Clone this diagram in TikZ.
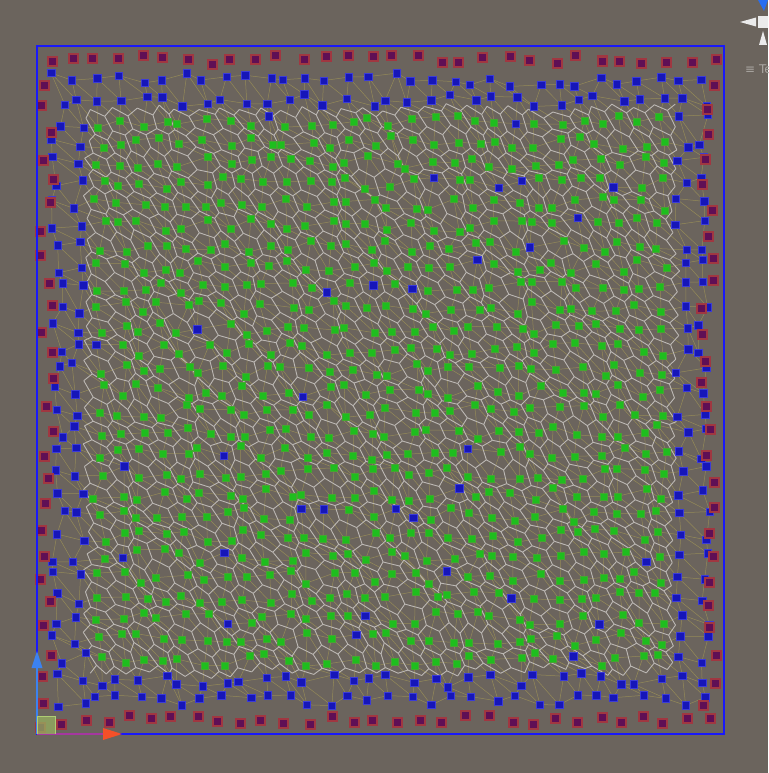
\documentclass[tikz,border=0pt]{standalone}
\usepackage{fontspec}
\setmainfont{DejaVu Sans}
\definecolor{bgc}{RGB}{107,100,93}
\definecolor{framec}{RGB}{25,25,250}
\definecolor{delc}{RGB}{148,138,88}
\definecolor{vorc}{RGB}{188,184,180}
\definecolor{bluept}{RGB}{22,22,185}
\definecolor{bluein}{RGB}{60,60,215}
\definecolor{greenpt}{RGB}{30,190,30}
\definecolor{greenin}{RGB}{70,165,50}
\definecolor{magout}{RGB}{160,55,65}
\definecolor{magin}{RGB}{95,15,85}
\definecolor{gizw}{RGB}{235,235,235}
\definecolor{gizb}{RGB}{40,110,240}
\definecolor{axblue}{RGB}{60,130,240}
\definecolor{axred}{RGB}{245,80,40}
\definecolor{axpurp}{RGB}{165,55,160}
\definecolor{boxg}{RGB}{150,175,95}
\definecolor{boxgl}{RGB}{175,205,115}
\definecolor{labg}{RGB}{170,166,162}
\tikzset{
  del/.style={delc, line width=0.5pt},
  vor/.style={vorc, line width=0.9pt},
  bluep/.style={rectangle, inner sep=0pt, minimum size=7.5pt, fill=bluept, draw=bluein, line width=0.5pt},
  greenp/.style={rectangle, inner sep=0pt, minimum size=7pt, fill=greenpt, draw=greenin, line width=0.5pt},
  magp/.style={rectangle, inner sep=0pt, minimum size=9pt, fill=magin, draw=magout, line width=2pt},
}
\begin{document}
\begin{tikzpicture}[x=1pt,y=-1pt]
\useasboundingbox (0,0) rectangle (768,773);
\fill[bgc] (0,0) rectangle (768,773);
% grid of points
\foreach \i in {0,...,31}{
  \foreach \j in {0,...,30}{
    \pgfmathsetmacro\hx{frac(abs(sin(\i*127.1+\j*311.7))*4375.85)}
    \pgfmathsetmacro\hy{frac(abs(sin(\i*269.5+\j*183.3))*4375.85)}
    \pgfmathsetmacro\hc{frac(abs(sin(\i*419.2+\j*71.9+13))*4375.85)}
    \coordinate (p-\i-\j) at ({58+\i*20.8+(\hx-0.5)*14},{80+\j*20.7+(\hy-0.5)*14});
    \pgfmathtruncatemacro\cls{(\i<2 || \i>29 || \j<2 || \j>28 || \hc<0.07) ? 1 : 0}
    \expandafter\xdef\csname cl-\i-\j\endcsname{\cls}
  }
}
% Delaunay-like edges
\foreach \i in {0,...,31}{
  \foreach \j in {0,...,30}{
    \pgfmathtruncatemacro\ii{\i+1}
    \pgfmathtruncatemacro\jj{\j+1}
    \ifnum\i<31 \draw[del] (p-\i-\j) -- (p-\ii-\j); \fi
    \ifnum\j<30 \draw[del] (p-\i-\j) -- (p-\i-\jj); \fi
    \ifnum\i<31 \ifnum\j<30 \draw[del] (p-\i-\j) -- (p-\ii-\jj); \fi\fi
  }
}
% dual vertices
\foreach \i in {1,...,29}{
  \foreach \j in {1,...,28}{
    \pgfmathtruncatemacro\ii{\i+1}
    \pgfmathtruncatemacro\jj{\j+1}
    \coordinate (A-\i-\j) at (barycentric cs:p-\i-\j=1,p-\ii-\j=1,p-\ii-\jj=1);
    \coordinate (B-\i-\j) at (barycentric cs:p-\i-\j=1,p-\i-\jj=1,p-\ii-\jj=1);
  }
}
% Voronoi-like cells
\foreach \i in {1,...,29}{
  \foreach \j in {1,...,28}{
    \pgfmathtruncatemacro\ii{\i+1}
    \pgfmathtruncatemacro\jm{\j-1}
    \draw[vor] (A-\i-\j) -- (B-\i-\j);
    \ifnum\j>1 \draw[vor] (A-\i-\j) -- (B-\i-\jm); \fi
    \ifnum\i<29 \draw[vor] (A-\i-\j) -- (B-\ii-\j); \fi
  }
}
% points
\foreach \i in {0,...,31}{
  \foreach \j in {0,...,30}{
    \expandafter\ifnum\csname cl-\i-\j\endcsname=1
      \node[bluep] (n-\i-\j) at (p-\i-\j) {};
    \else
      \node[greenp] (n-\i-\j) at (p-\i-\j) {};
    \fi
  }
}
% outer ring: top and bottom rows
\foreach \k in {0,...,29}{
  \pgfmathsetmacro\ha{frac(abs(sin(\k*157.3+31))*4375.85)}
  \pgfmathsetmacro\hb{frac(abs(sin(\k*91.7+77))*4375.85)}
  \pgfmathsetmacro\hd{frac(abs(sin(\k*233.9+5))*4375.85)}
  \pgfmathsetmacro\he{frac(abs(sin(\k*61.3+191))*4375.85)}
  \node[magp] (mt-\k) at ({50+\k*22.9+(\ha-0.5)*8},{60+(\hb-0.5)*10}) {};
  \node[magp] (mb-\k) at ({62+\k*22.4+(\hd-0.5)*8},{720+(\he-0.5)*10}) {};
}
% outer ring: left and right columns
\foreach \k in {0,...,25}{
  \pgfmathsetmacro\ha{frac(abs(sin(\k*173.1+43))*4375.85)}
  \pgfmathsetmacro\hb{frac(abs(sin(\k*97.3+11))*4375.85)}
  \pgfmathsetmacro\hd{frac(abs(sin(\k*211.7+59))*4375.85)}
  \pgfmathsetmacro\he{frac(abs(sin(\k*67.9+101))*4375.85)}
  \node[magp] (ml-\k) at ({47+(\ha-0.5)*16},{82+\k*24.8+(\hb-0.5)*8}) {};
  \node[magp] (mr-\k) at ({709+(\hd-0.5)*16},{86+\k*24.8+(\he-0.5)*8}) {};
}
\node[magp] (mc) at (40,727) {};
% frame
\draw[framec, line width=1.4pt] (37,46) rectangle (724,734);
% axes gizmo bottom-left
\draw[axblue, line width=1.2pt] (37,734) -- (37,660);
\fill[axblue] (31.5,668) -- (42.5,668) -- (37,651) -- cycle;
\draw[axpurp, line width=1.2pt] (37,734) -- (104,734);
\fill[axred] (103,728) -- (103,740) -- (122,734) -- cycle;
\fill[boxg, opacity=0.75] (37,716) rectangle (55,734);
\draw[boxgl, line width=1pt] (37,734) -- (37,716) -- (55,716) -- (55,734);
% view gizmo top-right
\fill[gizb] (758,0) -- (768,0) -- (764,11) -- cycle;
\fill[gizw] (758,16) rectangle (768,28);
\fill[gizw] (740,22) -- (756,17.5) -- (756,26.5) -- cycle;
\fill[gizw] (763,31) -- (759,45) -- (767,45) -- cycle;
\node[labg, anchor=west, inner sep=0pt, font=\fontsize{12}{14}\selectfont] (lab) at (745,69) {≡ Te};
\end{tikzpicture}
\end{document}
